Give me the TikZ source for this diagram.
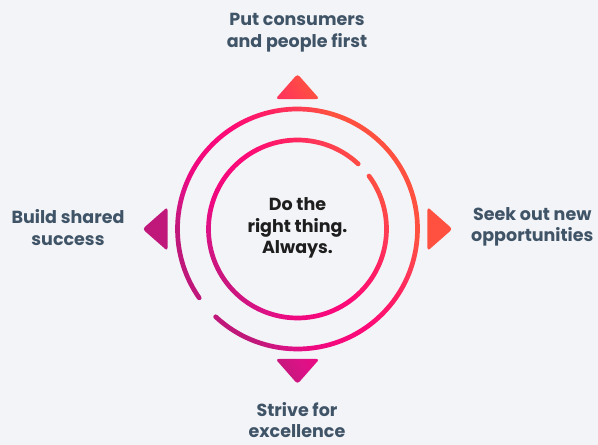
\documentclass[tikz,border=0pt]{standalone}
\usepackage{fontspec}
\setmainfont{Poppins}
\definecolor{bgcol}{HTML}{F3F4F8}
\definecolor{pillarcol}{HTML}{405467}
\definecolor{mottocol}{HTML}{1E1E1E}
\definecolor{glowA}{HTML}{C0187A}
\definecolor{glowB}{HTML}{DC1286}
\definecolor{glowC}{HTML}{EE0880}
\definecolor{glowD}{HTML}{FF0A78}
\definecolor{glowE}{HTML}{FF2062}
\definecolor{glowF}{HTML}{FF3A56}
\definecolor{glowG}{HTML}{FF5040}
\pgfdeclareverticalshading{ringglow}{100bp}{color(0bp)=(glowA); color(34bp)=(glowA);
    color(38bp)=(glowB); color(41bp)=(glowC); color(50bp)=(glowD); color(57bp)=(glowE);
    color(61bp)=(glowF); color(65bp)=(glowG); color(100bp)=(glowG)}
\begin{document}
\begin{tikzpicture}[x=1pt,y=1pt,
    pillar/.style={text=pillarcol, inner sep=0pt, align=center, font=\bfseries\fontsize{17.5}{21.5}\selectfont},
    motto/.style={text=mottocol, inner sep=0pt, align=center, font=\bfseries\fontsize{17.5}{21.5}\selectfont}]
    \fill[bgcol] (0,0) rectangle (598,445);
    \useasboundingbox (0,0) rectangle (598,445);
    \begin{scope}[shift={(297.5,216)}]
        \shade[shading=ringglow, shading angle=-55]
            [rounded corners=3pt]
            \foreach \a in {0,90,180,270} {(\a+9.6:131.85) -- (\a:155) -- (\a-9.6:131.85) -- cycle}
            [sharp corners]
            (227:122.35) arc[start angle=227, end angle=575, radius=122.35]
                arc[start angle=215, end angle=395, radius=2.35]
                arc[start angle=575, end angle=227, radius=117.65]
                arc[start angle=47, end angle=227, radius=2.35] -- cycle
            (47:91.35) arc[start angle=47, end angle=396.5, radius=91.35]
                arc[start angle=36.5, end angle=216.5, radius=2.35]
                arc[start angle=396.5, end angle=47, radius=86.65]
                arc[start angle=227, end angle=407, radius=2.35] -- cycle;
        \node[motto] (core) at (0,1) {Do the\\right thing.\\Always.};
    \end{scope}
    \node[pillar] (consumers) at (297,412.5) {Put consumers\\and people first};
    \node[pillar] (shared) at (68,217.5) {Build shared\\success};
    \node[pillar, anchor=west] (seek) at (471,218) {Seek out new\\opportunities};
    \node[pillar] (strive) at (297,25) {Strive for\\excellence};
\end{tikzpicture}
\end{document}
